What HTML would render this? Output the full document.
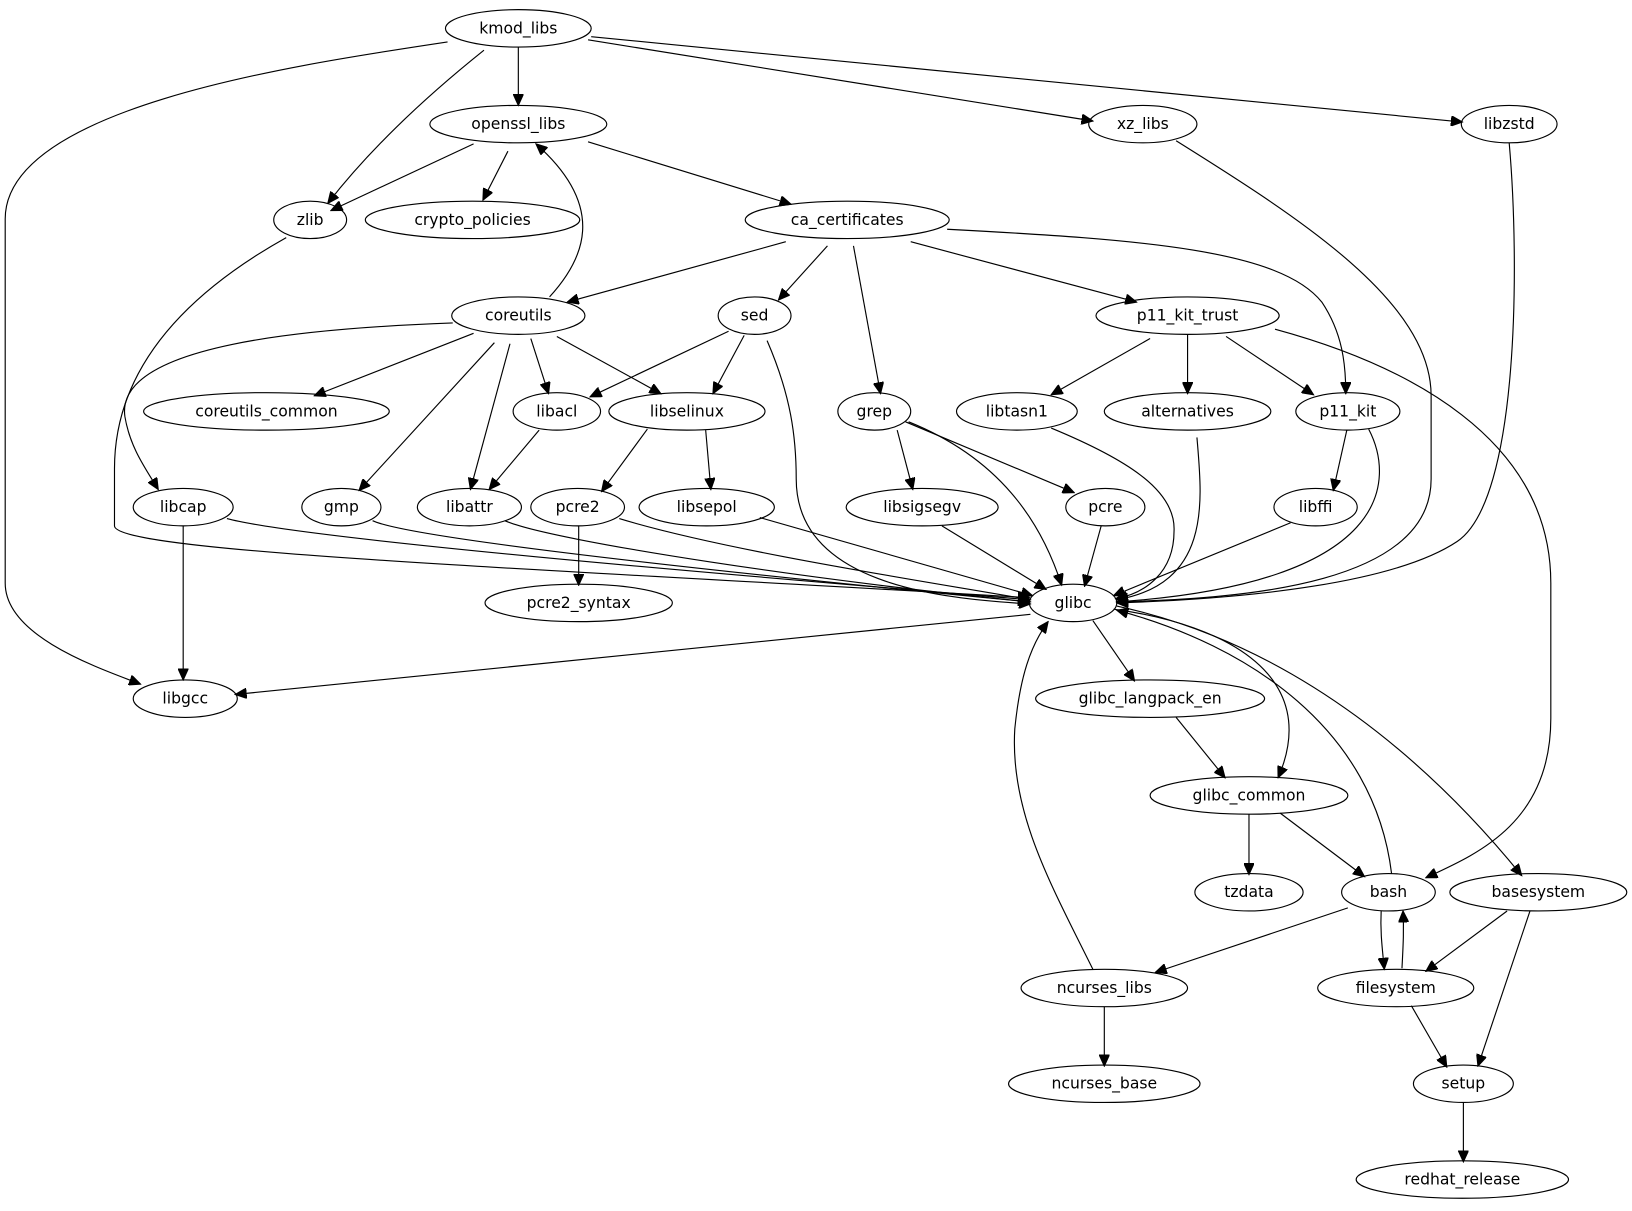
<!DOCTYPE html><html><head><style>body{margin:0;background:#fff}svg{display:block}text{font-family:"DejaVu Sans","Liberation Sans",sans-serif;font-size:15px;text-anchor:middle;dominant-baseline:central}ellipse{fill:none;stroke:#000;stroke-width:1.1}path{fill:none;stroke:#000;stroke-width:1.1}</style></head><body>
<svg width="1632" height="1211" viewBox="0 0 1568 1163" xmlns="http://www.w3.org/2000/svg">
<defs><marker id="a" markerUnits="userSpaceOnUse" markerWidth="12" markerHeight="10" refX="11" refY="5" orient="auto"><path d="M0,0 L11,5 L0,10 Z" style="fill:#000;stroke:#000"/></marker></defs>
<g marker-end="url(#a)">
<path d="M498,45 L498,101"/>
<path d="M465,48 C400,100 350,150 315,195"/>
<path d="M430,40 C300,60 5,100 5,210 L5,560 C5,610 90,640 135,657"/>
<path d="M565,38 L1050,116"/>
<path d="M568,35 L1405,117"/>
<path d="M455,138 L318,202"/>
<path d="M488,145 L464,192"/>
<path d="M565,136 L760,196"/>
<path d="M528,285 C560,250 585,200 515,138"/>
<path d="M755,232 L545,290"/>
<path d="M795,236 L748,288"/>
<path d="M820,236 L846,378"/>
<path d="M875,232 L1092,290"/>
<path d="M910,220 C1100,230 1230,240 1270,290 C1290,320 1293,350 1293,378"/>
<path d="M275,228 C200,270 110,340 110,450 L110,505 C110,530 500,545 989,574"/>
<path d="M455,320 L302,380"/>
<path d="M435,310 C300,315 110,330 120,400 C125,430 140,450 152,470"/>
<path d="M475,329 L345,471"/>
<path d="M490,330 L452,470"/>
<path d="M510,325 L527,378"/>
<path d="M535,323 L635,378"/>
<path d="M700,318 L567,381"/>
<path d="M715,322 L685,378"/>
<path d="M737,327 C760,380 765,420 765,460 C765,560 900,575 990,580"/>
<path d="M1105,325 L1010,379"/>
<path d="M1141,321 L1141,378"/>
<path d="M1178,323 L1262,379"/>
<path d="M1225,316 C1350,350 1490,420 1490,560 L1490,690 C1490,790 1420,820 1370,843"/>
<path d="M862,413 L877,470"/>
<path d="M870,405 L1032,473"/>
<path d="M873,405 C960,440 1000,500 1020,562"/>
<path d="M1010,411 C1080,440 1130,470 1128,510 C1128,550 1100,570 1072,575"/>
<path d="M1150,420 C1155,480 1165,560 1073,576"/>
<path d="M1294,413 L1281,471"/>
<path d="M1315,412 C1340,460 1340,560 1073,578"/>
<path d="M1130,135 C1250,210 1375,290 1375,380 L1375,460 C1375,560 1200,575 1073,578"/>
<path d="M1450,137 C1460,250 1460,480 1400,520 C1340,560 1200,575 1073,579"/>
<path d="M176,505 L176,653"/>
<path d="M218,498 C300,520 800,560 989,576"/>
<path d="M358,500 C400,520 800,560 989,578"/>
<path d="M485,500 C530,520 800,560 990,578"/>
<path d="M518,413 L470,470"/>
<path d="M622,412 L578,472"/>
<path d="M678,413 L683,470"/>
<path d="M556,505 L556,562"/>
<path d="M595,498 C700,530 900,560 990,576"/>
<path d="M730,497 L992,572"/>
<path d="M905,505 L1005,566"/>
<path d="M1058,505 L1042,563"/>
<path d="M1240,502 L1070,572"/>
<path d="M990,590 L226,667"/>
<path d="M1050,596 L1090,654"/>
<path d="M1070,585 C1180,600 1270,650 1228,747"/>
<path d="M1073,582 C1250,620 1380,740 1462,841"/>
<path d="M1337,839 C1320,700 1200,620 1073,586"/>
<path d="M1050,931 C1010,850 970,780 975,700 C980,650 990,620 1007,597"/>
<path d="M1130,689 L1177,747"/>
<path d="M1200,782 L1200,840"/>
<path d="M1230,781 L1311,842"/>
<path d="M1295,872 L1110,934"/>
<path d="M1327,875 C1326,895 1328,910 1330,931"/>
<path d="M1347,930 C1348,910 1349,895 1348,875"/>
<path d="M1448,875 L1370,933"/>
<path d="M1470,875 L1420,1024"/>
<path d="M1356,966 L1390,1025"/>
<path d="M1061,967 L1061,1024"/>
<path d="M1406,1059 L1406,1116"/>
</g>
<g>
<ellipse cx="498" cy="27" rx="70" ry="18"/><text x="498" y="27">kmod_libs</text>
<ellipse cx="498" cy="119" rx="85" ry="18"/><text x="498" y="119">openssl_libs</text>
<ellipse cx="1098" cy="119" rx="52" ry="18"/><text x="1098" y="119">xz_libs</text>
<ellipse cx="1450" cy="119" rx="46" ry="18"/><text x="1450" y="119">libzstd</text>
<ellipse cx="298" cy="211" rx="35" ry="18"/><text x="298" y="211">zlib</text>
<ellipse cx="454" cy="211" rx="103" ry="18"/><text x="454" y="211">crypto_policies</text>
<ellipse cx="814" cy="211" rx="98" ry="18"/><text x="814" y="211">ca_certificates</text>
<ellipse cx="498" cy="303" rx="64" ry="18"/><text x="498" y="303">coreutils</text>
<ellipse cx="725" cy="303" rx="35" ry="18"/><text x="725" y="303">sed</text>
<ellipse cx="1141" cy="303" rx="88" ry="18"/><text x="1141" y="303">p11_kit_trust</text>
<ellipse cx="256" cy="395" rx="118" ry="18"/><text x="256" y="395">coreutils_common</text>
<ellipse cx="535" cy="395" rx="42" ry="18"/><text x="535" y="395">libacl</text>
<ellipse cx="660" cy="395" rx="75" ry="18"/><text x="660" y="395">libselinux</text>
<ellipse cx="840" cy="395" rx="35" ry="18"/><text x="840" y="395">grep</text>
<ellipse cx="977" cy="395" rx="58" ry="18"/><text x="977" y="395">libtasn1</text>
<ellipse cx="1141" cy="395" rx="80" ry="18"/><text x="1141" y="395">alternatives</text>
<ellipse cx="1295" cy="395" rx="50" ry="18"/><text x="1295" y="395">p11_kit</text>
<ellipse cx="176" cy="487" rx="48" ry="18"/><text x="176" y="487">libcap</text>
<ellipse cx="328" cy="487" rx="38" ry="18"/><text x="328" y="487">gmp</text>
<ellipse cx="451" cy="487" rx="50" ry="18"/><text x="451" y="487">libattr</text>
<ellipse cx="555" cy="487" rx="45" ry="18"/><text x="555" y="487">pcre2</text>
<ellipse cx="679" cy="487" rx="65" ry="18"/><text x="679" y="487">libsepol</text>
<ellipse cx="886" cy="487" rx="73" ry="18"/><text x="886" y="487">libsigsegv</text>
<ellipse cx="1062" cy="487" rx="38" ry="18"/><text x="1062" y="487">pcre</text>
<ellipse cx="1264" cy="487" rx="40" ry="18"/><text x="1264" y="487">libffi</text>
<ellipse cx="1031" cy="579" rx="42" ry="18"/><text x="1031" y="579">glibc</text>
<ellipse cx="556" cy="579" rx="90" ry="18"/><text x="556" y="579">pcre2_syntax</text>
<ellipse cx="178" cy="671" rx="50" ry="18"/><text x="178" y="671">libgcc</text>
<ellipse cx="1105" cy="671" rx="110" ry="18"/><text x="1105" y="671">glibc_langpack_en</text>
<ellipse cx="1200" cy="764" rx="95" ry="18"/><text x="1200" y="764">glibc_common</text>
<ellipse cx="1200" cy="857" rx="52" ry="18"/><text x="1200" y="857">tzdata</text>
<ellipse cx="1334" cy="857" rx="45" ry="18"/><text x="1334" y="857">bash</text>
<ellipse cx="1478" cy="857" rx="85" ry="18"/><text x="1478" y="857">basesystem</text>
<ellipse cx="1061" cy="949" rx="80" ry="18"/><text x="1061" y="949">ncurses_libs</text>
<ellipse cx="1341" cy="949" rx="75" ry="18"/><text x="1341" y="949">filesystem</text>
<ellipse cx="1061" cy="1041" rx="92" ry="18"/><text x="1061" y="1041">ncurses_base</text>
<ellipse cx="1406" cy="1041" rx="48" ry="18"/><text x="1406" y="1041">setup</text>
<ellipse cx="1405" cy="1133" rx="102" ry="18"/><text x="1405" y="1133">redhat_release</text>
</g>
</svg></body></html>
